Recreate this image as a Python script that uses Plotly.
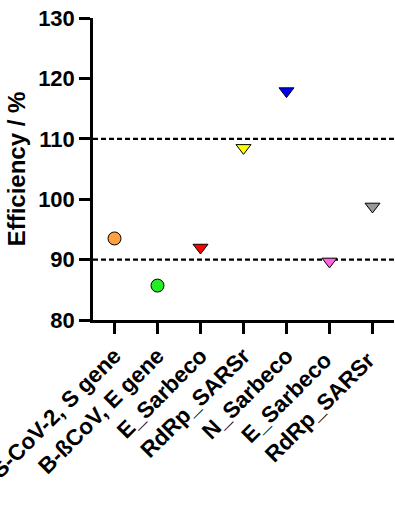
import plotly.graph_objects as go

categories = ["SARS-CoV-2, S gene", "B-ßCoV, E gene", "E_Sarbeco", "RdRp_SARSr",
              "N_Sarbeco", "E_Sarbeco ", "RdRp_SARSr "]
values = [93.5, 85.7, 92.0, 108.5, 117.9, 89.7, 98.8]
symbols = ["circle", "circle", "triangle-down", "triangle-down", "triangle-down",
           "triangle-down", "triangle-down"]
colors = ["#FFA040", "#22EE22", "#FF0000", "#FFFF00", "#0000FF", "#FF66DD", "#999999"]
ref_lines = [90, 110]
y_ticks = [80, 90, 100, 110, 120, 130]

FONT = "Liberation Sans, Arial, sans-serif"

fig = go.Figure()
fig.add_trace(go.Scatter(
    x=list(range(len(categories))), y=values, mode="markers",
    marker=dict(symbol=symbols, color=colors, size=13,
                line=dict(color="black", width=1)),
    showlegend=False, cliponaxis=False, hoverinfo="skip",
))
for v in ref_lines:
    fig.add_shape(type="line", xref="paper", yref="y", x0=0, x1=1, y0=v, y1=v,
                  line=dict(color="black", width=2.2, dash="5px,3px"), layer="below")

fig.update_layout(
    width=395, height=515,
    margin=dict(l=93, r=1, t=18, b=195),
    plot_bgcolor="white", paper_bgcolor="white",
    font=dict(family=FONT, color="black", weight="bold"),
)
fig.update_xaxes(
    range=[-0.5, 6.5], tickmode="array", tickvals=list(range(len(categories))),
    ticktext=categories, tickangle=-45, ticks="outside", ticklen=11, tickwidth=2.5,
    tickcolor="black", showline=True, linecolor="black", linewidth=2.5,
    showgrid=False, zeroline=False, automargin=False, ticklabeloverflow="allow",
    tickfont=dict(size=22.5, family=FONT, weight="bold"),
)
fig.update_yaxes(
    range=[80, 130], tickvals=y_ticks, ticks="outside", ticklen=11, tickwidth=2.5,
    tickcolor="black", showline=True, linecolor="black", linewidth=2.5,
    showgrid=False, zeroline=False, automargin=False, ticklabeloverflow="allow",
    tickfont=dict(size=22, family=FONT, weight="bold"),
    title=dict(text="Efficiency / %", font=dict(size=24, family=FONT, weight="bold"),
               standoff=6),
)
fig.write_html("out.html", config={"displayModeBar": False},
               post_script="document.body.style.margin='0';")
